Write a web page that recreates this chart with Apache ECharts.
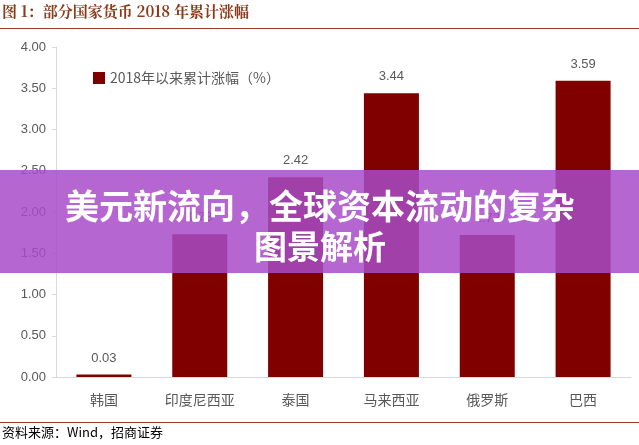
<!DOCTYPE html>
<html>
<head>
<meta charset="utf-8">
<script src="https://cdn.jsdelivr.net/npm/echarts@6/dist/echarts.min.js"></script>
<style>html,body{margin:0;padding:0;background:#fff}#main{width:639px;height:445px}</style>
</head>
<body>
<div id="main"></div>
<script>
// 数据
var categories = ['韩国', '印度尼西亚', '泰国', '马来西亚', '俄罗斯', '巴西'];
var values = [0.03, 1.73, 2.42, 3.44, 1.72, 3.59];
var seriesName = '2018年以来累计涨幅（%）';

var myChart = echarts.init(document.getElementById('main'));

var option = {
    animation: false,
    grid: { left: 56, right: 8, top: 47, bottom: 68 },
    legend: {
        left: 88, top: 66,
        itemWidth: 12, itemHeight: 12, icon: 'rect',
        textStyle: { fontSize: 14, color: '#595959', fontFamily: 'Noto Sans CJK SC' },
        data: [seriesName]
    },
    xAxis: {
        type: 'category',
        data: categories,
        axisLine: { lineStyle: { color: '#d9d9d9' } },
        axisTick: { show: false },
        axisLabel: { fontSize: 14, color: '#595959', margin: 16, fontFamily: 'Noto Sans CJK SC' }
    },
    yAxis: {
        type: 'value',
        min: 0, max: 4, interval: 0.5,
        splitLine: { show: false },
        axisLine: { show: true, lineStyle: { color: '#d9d9d9' } },
        axisTick: { show: true, length: 4, lineStyle: { color: '#d9d9d9' } },
        axisLabel: { fontSize: 13, color: '#595959', margin: 10,
            formatter: function (v) { return v.toFixed(2); } }
    },
    series: [{
        name: seriesName,
        type: 'bar',
        barWidth: 55,
        data: values,
        itemStyle: { color: '#800000' },
        label: { show: true, position: 'top', distance: 10, fontSize: 13, color: '#595959',
            formatter: function (p) { return p.value.toFixed(2); } }
    }],
    graphic: [
        { type: 'text', left: 2, top: 4, z: 10,
          style: { text: '图 1：部分国家货币 2018 年累计涨幅', fill: '#8b3a1a',
                   font: 'bold 15px "Noto Serif CJK SC", "Noto Sans CJK SC", serif' } },
        { type: 'rect', shape: { x: 0, y: 28, width: 639, height: 1 }, style: { fill: '#9b3a2a' } },
        { type: 'rect', shape: { x: 0, y: 422, width: 639, height: 1 }, style: { fill: '#9b3a2a' } },
        { type: 'text', left: 2, top: 426,
          style: { text: '资料来源：Wind，招商证券', fill: '#000', font: '13px "Noto Sans CJK SC", sans-serif' } },
        { type: 'rect', z: 20, shape: { x: 0, y: 170, width: 639, height: 103 },
          style: { fill: 'rgba(168,75,200,0.85)' } },
        { type: 'text', z: 21, x: 320, y: 206,
          style: { text: '美元新流向，全球资本流动的复杂', fill: '#fff', align: 'center', verticalAlign: 'middle',
                   font: 'bold 34px "Noto Sans CJK SC", sans-serif' } },
        { type: 'text', z: 21, x: 320, y: 246,
          style: { text: '图景解析', fill: '#fff', align: 'center', verticalAlign: 'middle',
                   font: 'bold 33px "Noto Sans CJK SC", sans-serif' } }
    ]
};

myChart.setOption(option);
</script>
</body>
</html>
